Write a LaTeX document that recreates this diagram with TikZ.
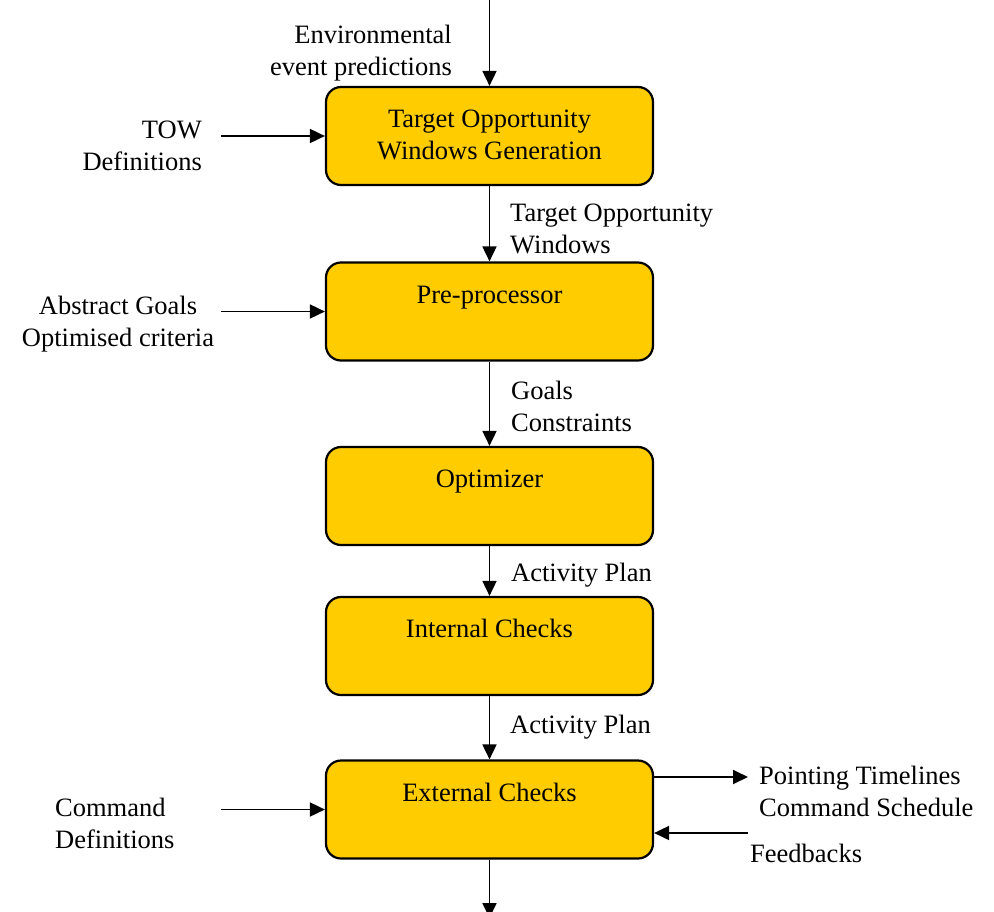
\documentclass[tikz,border=0pt]{standalone}
\usepackage{fontspec}
\setmainfont{Liberation Serif}
\usetikzlibrary{arrows.meta}
\definecolor{stagefill}{HTML}{FFCC00}
\begin{document}
\begin{tikzpicture}[x=1pt,y=-1pt,
  font=\fontsize{26.5}{32}\selectfont,
  stage/.style={draw=black, line width=2.2pt, fill=stagefill, rounded corners=15pt,
    minimum width=327pt, minimum height=98pt, inner sep=0pt},
  flow/.style={line width=1.8pt, -{Triangle[length=15pt,width=14pt]}},
  lbl/.style={inner sep=0pt}
]
\useasboundingbox (0,0) rectangle (994,911);

% processing stages
\node[stage] (tow) at (489.5,136) {};
\node[stage] (pre) at (489.5,311.5) {};
\node[stage] (opt) at (489.5,496) {};
\node[stage] (int) at (489.5,646) {};
\node[stage] (ext) at (489.5,809.5) {};

% stage titles (base anchor of a two-line node sits on its last line)
\node[lbl, anchor=base, align=center] (towtxt) at ([yshift=-74pt]tow.north) {Target Opportunity\\Windows Generation};
\node[lbl, anchor=base] (pretxt) at ([yshift=-42pt]pre.north) {Pre-processor};
\node[lbl, anchor=base] (opttxt) at ([yshift=-42pt]opt.north) {Optimizer};
\node[lbl, anchor=base] (inttxt) at ([yshift=-42pt]int.north) {Internal Checks};
\node[lbl, anchor=base] (exttxt) at ([yshift=-42pt]ext.north) {External Checks};

% free ends of connectors
\coordinate (top) at (489.5,0);
\coordinate (towin) at (221,136);
\coordinate (goalin) at (221,311.5);
\coordinate (cmdin) at (221,809.5);
\coordinate (out) at (748,777);
\coordinate (fb) at (748,833);
\coordinate (bot) at (489.5,918);

% connectors
\draw[flow] (top) -- (tow.north);
\draw[flow] (towin) -- (tow.west);
\draw[flow] (tow) -- (pre);
\draw[flow] (goalin) -- (pre.west);
\draw[flow] (pre) -- (opt);
\draw[flow] (opt) -- (int);
\draw[flow] (int) -- (ext);
\draw[flow] (cmdin) -- (ext.west);
\draw[flow] (ext.east |- out) -- (out);
\draw[flow] (fb) -- (ext.east |- fb);
\draw[flow] (ext) -- (bot);

% connector labels
\node[lbl, anchor=base east, align=right] (envlbl) at (452,75) {Environmental\\event predictions};
\node[lbl, anchor=base east, align=right] (towlbl) at (202,170) {TOW\\Definitions};
\node[lbl, anchor=base west, align=left] (twlbl) at (510,253) {Target Opportunity\\Windows};
\node[lbl, anchor=base, align=center] (goallbl) at (118,346) {Abstract Goals\\Optimised criteria};
\node[lbl, anchor=base west, align=left] (gclbl) at (511,431) {Goals\\Constraints};
\node[lbl, anchor=base west] (ap1lbl) at (511,581) {Activity Plan};
\node[lbl, anchor=base west] (ap2lbl) at (510,733) {Activity Plan};
\node[lbl, anchor=base west, align=left] (cmdlbl) at (55,848) {Command\\Definitions};
\node[lbl, anchor=base west, align=left] (outlbl) at (759,816) {Pointing Timelines\\Command Schedule};
\node[lbl, anchor=base west] (fblbl) at (750,862) {Feedbacks};
\end{tikzpicture}
\end{document}
